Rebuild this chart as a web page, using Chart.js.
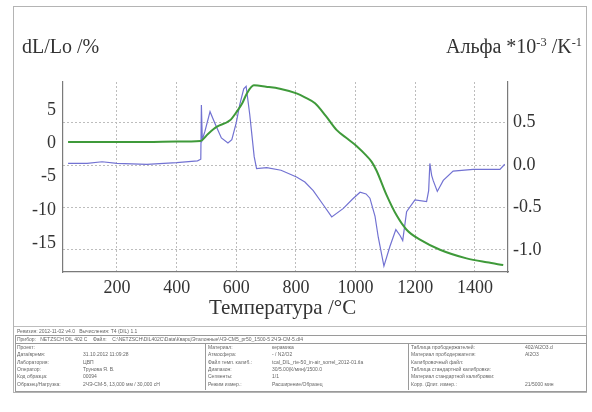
<!DOCTYPE html>
<html>
<head>
<meta charset="utf-8">
<script src="https://cdn.jsdelivr.net/npm/chart.js@4/dist/chart.umd.min.js"></script>
<style>
  body { margin: 0; background: #fff; }
  #wrap { position: relative; width: 592px; height: 412px; overflow: hidden; }
  #chart { position: absolute; left: 0; top: 0; }
  .frame { position: absolute; left: 13px; top: 6px; width: 572px; height: 385px; border: 1px solid #b4b4b4; }
  .hline { position: absolute; left: 14px; width: 572px; height: 0; border-top: 1px solid #bdbdbd; }
  .ttl { position: absolute; font-family: "Liberation Serif", serif; color: #333; white-space: nowrap; }
  .ttl sup { font-size: 62%; vertical-align: 0.6em; line-height: 0; }
  .tbl { position: absolute; font-family: "Liberation Sans", Arial, sans-serif; font-size: 5px; color: #666; white-space: nowrap; }
  .box { position: absolute; border: 1px solid #9a9a9a; }
  .row { position: absolute; height: 7px; line-height: 7px; }
</style>
</head>
<body>
<div id="wrap">
  <canvas id="chart" width="592" height="412"></canvas>
  <div class="frame"></div>
  <div class="ttl" style="left:22px; top:35px; font-size:20px;">dL/Lo /%</div>
  <div class="ttl" style="right:10px; top:35px; font-size:20px;">Альфа *10<sup>-3</sup> /K<sup>-1</sup></div>
  <div class="ttl" style="left:209px; top:295px; font-size:21px;">Температура /°C</div>

  <div class="hline" style="top:326px;"></div>
  <div class="tbl" style="left:17px; top:328px;">Ревизия: 2012-11-02 v4.0 &nbsp; Вычисления: T4 (DIL) 1.1</div>
  <div class="box" style="left:15px; top:335px; width:570px; height:7px;"></div>
  <div class="tbl" style="left:17px; top:336px;">Прибор: &nbsp; NETZSCH DIL 402 C &nbsp;&nbsp; Файл: &nbsp;&nbsp; C:\NETZSCH\DIL402C\Data\Кварц\Эталонные\ЧЭ-СМ5_pr50_1500-5 2ЧЭ-СМ-5.dl4</div>
  <div class="box" style="left:15px; top:343px; width:570px; height:47px;"></div>
  <div class="box" style="left:205px; top:343px; width:0; height:47px; border-width:0 0 0 1px;"></div>
  <div class="box" style="left:408px; top:343px; width:0; height:47px; border-width:0 0 0 1px;"></div>
  <div id="tblRows"></div>
</div>

<script>
// x axis
const xTicks = [200, 400, 600, 800, 1000, 1200, 1400];
const xMin = 19, xMax = 1511;

// dL/Lo, % (left axis, green)
const tempDl = [36, 100, 200, 300, 400, 480, 505, 534, 579, 601, 620, 635, 659, 700, 746, 802, 830, 864, 900, 936, 975, 1003, 1037, 1054, 1070, 1104, 1137, 1171, 1216, 1283, 1372, 1440, 1495];
const dlLo   = [0.2, 0.2, 0.2, 0.2, 0.25, 0.35, 1.4, 2.45, 3.45, 4.7, 6.0, 7.45, 8.7, 8.5, 8.2, 7.5, 6.9, 6.0, 4.1, 2.0, 0.6, -0.4, -1.9, -2.8, -4.1, -7.8, -10.8, -13.0, -14.5, -16.0, -17.3, -17.9, -18.3];
const dlTicks = [5, 0, -5, -10, -15];

// Альфа *10^-3 /K^-1 (right axis, blue)
const tempAlpha = [36, 100, 150, 200, 300, 400, 470, 481, 483, 486, 495, 512, 530, 550, 572, 585, 600, 612, 625, 633, 645, 660, 668, 702, 750, 802, 830, 858, 892, 920, 959, 990, 1015, 1035, 1048, 1065, 1076, 1095, 1115, 1135, 1149, 1158, 1171, 1199, 1238, 1245, 1249, 1255, 1260, 1274, 1294, 1327, 1394, 1484, 1500];
const alpha     = [0.02, 0.02, 0.04, 0.02, 0.01, 0.03, 0.05, 0.07, 0.71, 0.30, 0.40, 0.63, 0.48, 0.32, 0.26, 0.30, 0.50, 0.72, 0.90, 0.93, 0.60, 0.10, -0.04, -0.03, -0.06, -0.14, -0.20, -0.30, -0.47, -0.61, -0.51, -0.40, -0.32, -0.34, -0.39, -0.60, -0.85, -1.19, -0.96, -0.76, -0.83, -0.89, -0.55, -0.41, -0.43, -0.30, 0.02, -0.12, -0.18, -0.31, -0.18, -0.07, -0.05, -0.05, 0.01];
const alphaTicks = [0.5, 0, -0.5, -1.0];

// report table
const tblLeft = [["Проект:", ""], ["Дата/время:", "31.10.2012 11:09:28"], ["Лаборатория:", "ЦВП"], ["Оператор:", "Трунова Я. В."], ["Код образца:", "00094"], ["Образец/Нагрузка:", "2ЧЭ-СМ-5, 13,000 мм / 30,000 сН"]];
const tblMid = [["Материал:", "керамика"], ["Атмосфера:", "- / N2/O2"], ["Файл темп. калиб.:", "tcal_DIL_rte-50_in-air_sorrel_2012-01.tla"], ["Диапазон:", "30/5.00(К/мин)/1500.0"], ["Сегменты:", "1/1"], ["Режим измер.:", "Расширение/Образец"]];
const tblRight = [["Таблица прободержателей:", "402/Al2O3.d"], ["Материал прободержателя:", "Al2O3"], ["Калибровочный файл:", ""], ["Таблица стандартной калибровки:", ""], ["Материал стандартной калибровки:", ""], ["Корр. /Длит. измер.:", "21/5000 мин"]];

function fillTable() {
    const host = document.getElementById('tblRows');
    const cols = [[tblLeft, 17, 83], [tblMid, 208, 272], [tblRight, 411, 525]];
    let html = '';
    cols.forEach(([rows, lx, vx]) => {
        rows.forEach(([k, v], i) => {
            const top = 344 + i * 7.3;
            html += `<div class="tbl row" style="left:${lx}px; top:${top}px;">${k}</div>`;
            html += `<div class="tbl row" style="left:${vx}px; top:${top}px;">${v}</div>`;
        });
    });
    host.innerHTML = html;
}
fillTable();

const toPts = (xs, ys) => xs.map((x, i) => ({ x: x, y: ys[i] }));
const tickFont = { family: "'Liberation Serif', serif", size: 18 };
const axisLine = { display: true, color: '#7a7a7a', width: 1.2 };
const gridLine = { color: '#bdbdbd', drawTicks: false };

new Chart(document.getElementById('chart').getContext('2d'), {
    type: 'line',
    data: {
        datasets: [{
                label: 'dL/Lo',
                data: toPts(tempDl, dlLo),
                yAxisID: 'yL',
                borderColor: '#3f9a3a',
                borderWidth: 2,
                pointRadius: 0,
                cubicInterpolationMode: 'monotone'
            },
            {
                label: 'Альфа',
                data: toPts(tempAlpha, alpha),
                yAxisID: 'yR',
                borderColor: '#7272d2',
                borderWidth: 1.2,
                pointRadius: 0,
                tension: 0
            }
        ]
    },
    options: {
        responsive: false,
        animation: false,
        layout: { padding: { top: 82, left: 0, right: 0, bottom: 0 } },
        plugins: { legend: { display: false }, tooltip: { enabled: false } },
        scales: {
            x: {
                type: 'linear',
                min: xMin,
                max: xMax,
                afterBuildTicks: s => { s.ticks = xTicks.map(v => ({ value: v })); },
                afterFit: s => { s.height = 140; },
                grid: gridLine,
                border: { ...axisLine, dash: [2, 2] },
                ticks: { font: tickFont, color: '#333', padding: 5, maxRotation: 0, callback: v => String(v) }
            },
            yL: {
                position: 'left',
                min: -19.35,
                max: 9.2,
                afterBuildTicks: s => { s.ticks = dlTicks.map(v => ({ value: v })); },
                afterFit: s => { s.width = 63; },
                grid: { display: false, drawTicks: false },
                border: axisLine,
                ticks: { font: tickFont, color: '#333', padding: 7, callback: v => String(v) }
            },
            yR: {
                position: 'right',
                min: -1.26,
                max: 0.98,
                afterBuildTicks: s => { s.ticks = alphaTicks.map(v => ({ value: v })); },
                afterFit: s => { s.width = 84; },
                grid: gridLine,
                border: { ...axisLine, dash: [2, 2] },
                ticks: { font: tickFont, color: '#333', padding: 5, callback: v => v.toFixed(1) }
            }
        }
    }
});
</script>
</body>
</html>
